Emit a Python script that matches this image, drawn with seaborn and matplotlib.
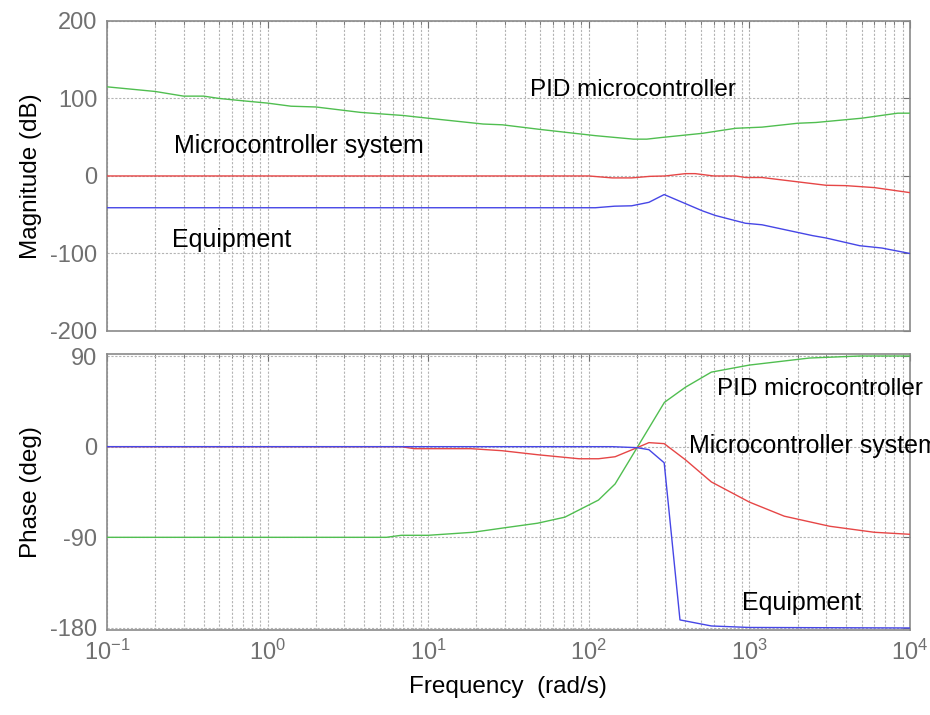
import matplotlib
matplotlib.use("Agg")
import matplotlib.pyplot as plt
import matplotlib.ticker as mticker
import seaborn as sns
import numpy as np

# magnitude (dB)
pid_mag_f = [0.1, 0.2, 0.3, 0.4, 0.5, 0.7, 1, 1.4, 2, 3.8, 7, 10, 22, 29, 50, 110,
             190, 230, 280, 510, 820, 1200, 2000, 2600, 5000, 8400, 10000]
pid_mag = [115, 109, 103, 103, 100, 97, 94, 90, 89, 82, 78, 74.5, 67, 66, 60, 52,
           47.5, 47.5, 49.5, 55, 61.5, 63, 68, 69, 74.5, 81, 81]

sys_mag_f = [0.1, 100, 140, 185, 240, 300, 400, 460, 600, 820, 950, 1200, 3000, 4000, 6000, 10000]
sys_mag = [0, 0, -2.5, -2.5, -0.5, 0, 3, 3, 0, 0, -2, -2, -12, -12.5, -15, -21.5]

eq_mag_f = [0.1, 110, 145, 185, 237, 295, 510, 615, 945, 1200, 2480, 3000, 4870, 6700, 10000]
eq_mag = [-41, -41, -39, -38.5, -34, -24, -45, -51, -61, -63, -77, -80, -90, -93, -100]

# phase (deg)
pid_ph_f = [0.1, 5.5, 6.8, 10, 19, 30, 48, 71, 115, 146, 200, 296, 400, 580, 1000, 2370, 4870, 10000]
pid_ph = [-90, -90, -88, -88, -85, -80.5, -76, -70, -53, -37, -1, 44, 59, 74, 81, 88, 90, 90]

sys_ph_f = [0.1, 6.8, 8.2, 18.5, 28.8, 48, 87, 115, 146, 200, 237, 295, 400, 580, 1000, 1650, 3160, 6000, 10000]
sys_ph = [0, 0, -2, -2, -4, -8, -12, -12, -10, -1, 4, 3, -13, -35, -55, -69, -79, -85, -87]

eq_ph_f = [0.1, 140, 200, 237, 295, 370, 580, 1000, 10000]
eq_ph = [0, 0, -1, -3, -16, -172, -178, -179.5, -180]

mag_ticks = [-200, -100, 0, 100, 200]
ph_ticks = [-180, -90, 0, 90]

GREEN, RED, BLUE = "#50be50", "#e64646", "#4646e6"
GRAY = "#707070"

sns.set_style("white")
plt.rcParams["font.family"] = ["Liberation Sans", "DejaVu Sans"]
plt.rcParams["mathtext.default"] = "regular"
plt.rcParams["axes.unicode_minus"] = False
plt.rcParams["text.color"] = "black"

fig = plt.figure(figsize=(9.3, 7.15), dpi=100)
ax1 = fig.add_axes([0.115, 0.5371, 0.8634, 0.4336])
ax2 = fig.add_axes([0.115, 0.1189, 0.8634, 0.3860])

for ax, series in [
    (ax1, [(pid_mag_f, pid_mag, GREEN), (sys_mag_f, sys_mag, RED), (eq_mag_f, eq_mag, BLUE)]),
    (ax2, [(pid_ph_f, pid_ph, GREEN), (sys_ph_f, sys_ph, RED), (eq_ph_f, eq_ph, BLUE)]),
]:
    for f, v, c in series:
        sns.lineplot(x=f, y=v, ax=ax, color=c, lw=1.0, estimator=None, sort=False, zorder=3)

    ax.set_xscale("log")
    ax.set_xlim(0.1, 1e4)
    ax.xaxis.set_major_locator(mticker.LogLocator(base=10, numticks=10))
    ax.xaxis.set_minor_locator(mticker.LogLocator(base=10, subs=np.arange(2, 10), numticks=20))
    ax.grid(True, which="both", axis="x", color="#b4b4b4", ls=(0, (2, 1.5)), lw=0.8)
    ax.grid(True, which="major", axis="y", color="#b4b4b4", ls=(0, (2, 1.5)), lw=0.8)
    ax.tick_params(which="both", direction="in", top=True, right=True,
                   colors=GRAY, labelsize=17, pad=7)
    ax.tick_params(which="major", length=5, width=0.8)
    ax.tick_params(which="minor", length=3, width=0.6)
    for s in ax.spines.values():
        s.set_color("#8a8a8a")
        s.set_linewidth(1.2)

# 🔥 top panel: magnitude
ax1.set_ylim(-200, 200)
ax1.set_yticks(mag_ticks)
ax1.tick_params(axis="x", labelbottom=False)
ax1.set_ylabel("Magnitude (dB)", fontsize=17.5, color="black", labelpad=6)
ax1.set_xlabel("")
ax1.text(42.8, 111, "PID microcontroller", fontsize=17.5, va="center")
ax1.text(0.262, 38.7, "Microcontroller system", fontsize=18, va="center")
ax1.text(0.255, -82.6, "Equipment", fontsize=18, va="center")

# 🔥 bottom panel: phase (last label runs off the right edge, as in the original)
ax2.set_ylim(-182, 92)
ax2.set_yticks(ph_ticks)
ax2.set_ylabel("Phase (deg)", fontsize=17.5, color="black", labelpad=6)
ax2.set_xlabel("Frequency  (rad/s)", fontsize=17.5, color="black", labelpad=8)
ax2.text(631, 57, "PID microcontroller", fontsize=17.5, va="center")
ax2.text(422, 1, "Microcontroller system", fontsize=18, va="center", clip_on=False)
ax2.text(904, -155, "Equipment", fontsize=18, va="center")

fig.align_ylabels([ax1, ax2])
fig.savefig("out.png", dpi=100)
